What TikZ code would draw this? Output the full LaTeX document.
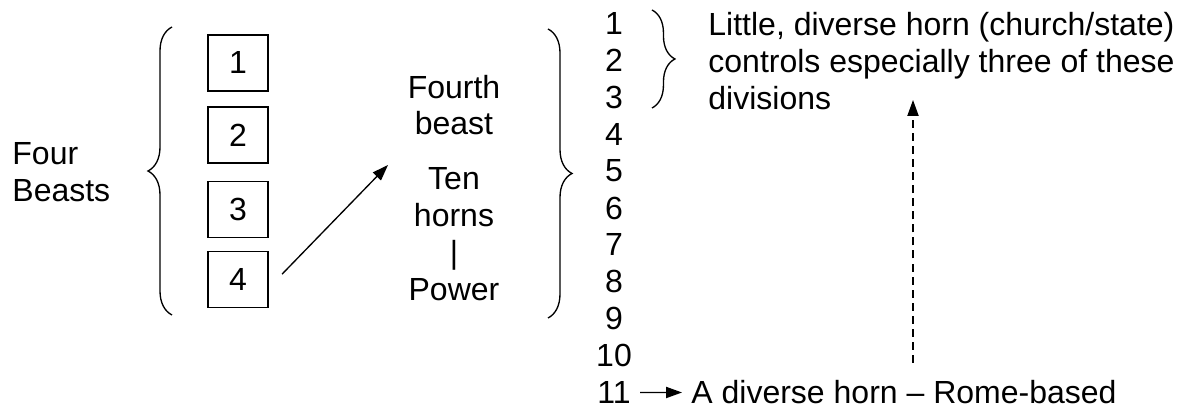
\documentclass[tikz,border=0pt]{standalone}
\usepackage{fontspec}
\setmainfont{Liberation Sans}
\usepackage{tikz}
\usetikzlibrary{arrows.meta,decorations.pathreplacing}
\usetikzlibrary{positioning}

\tikzset{
    beastbox/.style={draw, line width=0.55pt, minimum width=22.5pt, minimum height=21pt},
    bracepath/.style={decorate, decoration={brace, amplitude=#1}, line width=0.5pt},
    tip/.style={-{Triangle[length=6pt,width=4.2pt]}, line width=0.5pt}
}

\begin{document}
\begin{tikzpicture}[x=0.375pt, y=-0.375pt,
        every node/.style={font=\fontsize{12}{13.8}\selectfont}]
            \useasboundingbox (0,0) rectangle (1178,407);
            \node[anchor=west, align=left] (beasts) at (3,172) {Four\\Beasts};
            \draw[bracepath=9pt] (172,315) -- (172,27);
            \node[beastbox] (b1) at (238,63) {1};
            \node[beastbox] (b2) at (238,135) {2};
            \node[beastbox] (b3) at (238,209.5) {3};
            \node[beastbox] (b4) at (238,279.5) {4};
            \coordinate (aim) at (388,165);
            \draw[tip] ([xshift=5pt,yshift=2pt]b4.east) -- (aim);
            \node[align=center] (fourth) at (454,105) {Fourth\\beast};
            \node[align=center] (ten) at (454,234) {Ten\\horns\\|\\Power};
            \draw[bracepath=9pt] (548,29) -- (548,318);
            \foreach \n in {1,...,11}
                \node[inner ysep=0.5pt] (n\n) at (614,{23.5+36.9*(\n-1)}) {\n};
            \draw[bracepath=8.6pt] (652,10) -- (652,108);
            \node[anchor=west, align=left] (little) at (699,61)
                {Little, diverse horn (church/state)\\controls especially three of these\\divisions};
            \node[anchor=west, inner ysep=0.5pt] (rome) at (682,392.5) {A diverse horn -- Rome-based};
            \draw[tip] (n11.east) -- (rome.west);
            % dashed link up to the little horn
            \coordinate (up) at (913,100);
            \coordinate (dn) at (913,363);
            \draw[tip, dash pattern=on 3pt off 1.9pt] (dn) -- (up);
        \end{tikzpicture}
\end{document}
